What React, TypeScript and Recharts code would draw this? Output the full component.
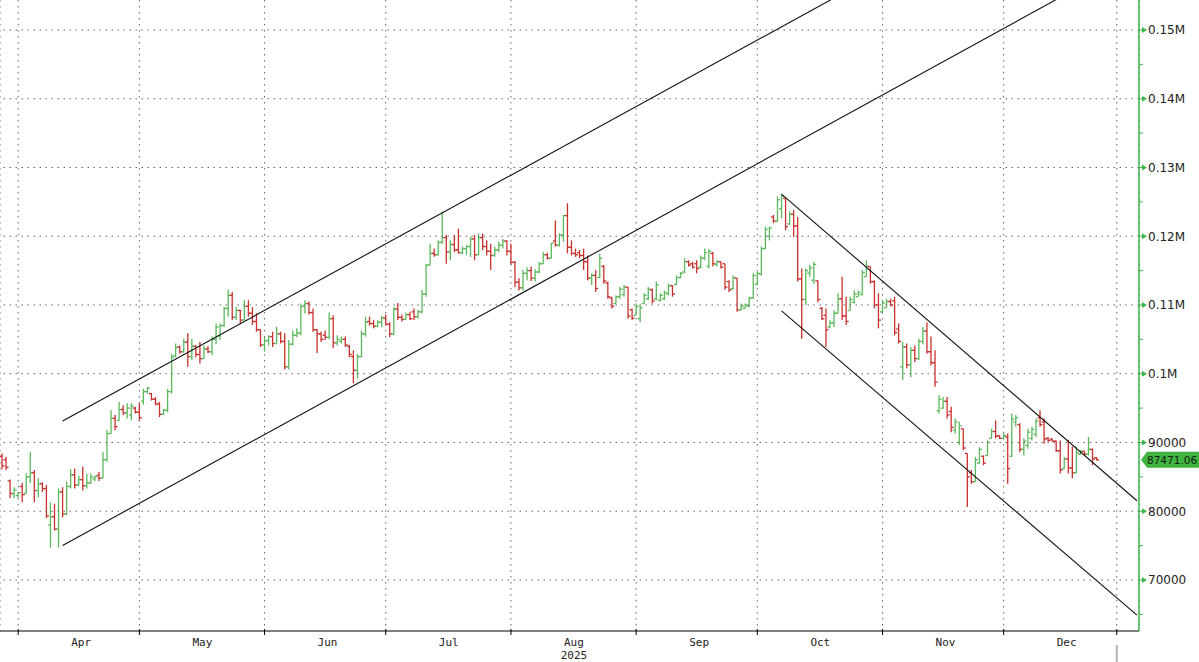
import { ComposedChart, Bar, XAxis, YAxis, CartesianGrid, ReferenceLine } from 'recharts';

const GREEN = '#5cb85c';
const RED = '#c9302c';
const AXIS_GREEN = '#3cb44b';
const GRID = '#666';

// daily bars in USD thousands: [open, high, low, close]
const mar = [
  [88.0, 88.4, 86.1, 86.6], [87.5, 87.9, 86.0, 86.4], [84.4, 84.6, 81.9, 82.6], [82.5, 83.5, 81.9, 83.1],
  [82.3, 82.8, 82.0, 82.7],
];
const apr = [
  [83.6, 84.1, 81.3, 82.4], [82.6, 85.5, 82.6, 85.0], [85.0, 88.6, 84.1, 85.6], [85.6, 86.0, 81.3, 83.0],
  [83.0, 84.8, 82.0, 84.0], [84.0, 84.2, 82.8, 83.3], [83.3, 83.8, 79.0, 79.3], [78.0, 81.3, 74.7, 79.2],
  [79.2, 81.1, 77.2, 77.4], [77.4, 83.3, 74.7, 82.8], [82.8, 83.5, 79.1, 79.6], [79.6, 84.3, 79.4, 83.6],
  [83.6, 86.1, 83.3, 85.3], [85.3, 86.2, 83.3, 83.8], [83.8, 85.2, 83.7, 84.6], [84.6, 86.5, 83.0, 83.7],
  [83.7, 85.5, 83.3, 84.1], [84.1, 85.5, 84.0, 85.0], [84.7, 85.2, 84.4, 85.0], [85.2, 85.7, 84.4, 84.8],
  [84.8, 88.6, 84.8, 87.5], [87.5, 91.8, 87.2, 91.3], [91.3, 94.7, 91.3, 93.5], [93.5, 94.0, 91.8, 92.3],
  [93.2, 95.9, 93.2, 94.8], [94.8, 95.4, 94.0, 94.3], [94.3, 95.7, 93.5, 95.0], [94.0, 95.7, 93.2, 95.3],
  [95.0, 95.2, 94.2, 94.4], [94.4, 95.7, 93.2, 93.6],
];
const may = [
  [96.0, 97.8, 95.5, 97.4], [97.4, 98.1, 97.1, 97.9], [97.1, 97.2, 96.1, 96.3], [96.3, 96.6, 95.4, 95.6],
  [95.6, 95.9, 93.7, 94.1], [94.1, 94.9, 94.0, 94.7], [94.7, 97.8, 94.4, 97.4], [97.4, 102.9, 97.1, 102.4],
  [102.6, 104.4, 102.4, 103.8], [103.9, 104.1, 102.9, 103.2], [103.2, 105.1, 103.1, 104.6], [104.6, 105.9, 101.0, 102.5],
  [102.5, 105.1, 102.0, 104.0], [104.0, 104.1, 102.4, 102.8], [102.8, 104.6, 101.5, 102.2], [102.2, 104.1, 102.2, 103.6],
  [103.6, 104.0, 103.0, 103.2], [103.2, 105.4, 102.7, 105.0], [105.0, 107.3, 104.3, 106.8], [105.5, 107.3, 104.9, 107.0],
  [107.0, 109.7, 106.8, 109.5], [109.5, 112.2, 108.3, 111.4], [111.4, 111.9, 107.8, 108.2], [108.2, 109.7, 107.8, 109.2],
  [109.2, 109.3, 107.3, 107.8], [107.8, 110.7, 107.8, 109.8], [109.8, 110.7, 108.3, 108.8], [108.8, 109.7, 107.1, 107.6],
  [107.6, 108.8, 106.1, 106.4], [106.4, 106.4, 103.9, 104.2], [104.2, 105.4, 103.2, 104.8],
];
const jun = [
  [104.8, 105.6, 104.1, 105.4], [105.4, 106.1, 103.9, 104.4], [104.4, 106.8, 104.4, 105.8], [105.8, 106.1, 104.4, 104.7],
  [104.7, 105.9, 100.6, 101.0], [101.0, 104.9, 100.6, 104.3], [104.3, 106.3, 104.1, 105.6], [105.6, 106.6, 105.3, 105.9],
  [105.9, 110.2, 105.6, 109.8], [109.8, 110.7, 108.8, 110.2], [110.2, 110.5, 108.6, 108.9], [108.9, 109.5, 106.1, 106.4],
  [106.4, 106.5, 103.0, 105.8], [105.8, 106.1, 104.6, 105.0], [105.6, 106.3, 104.9, 105.3], [105.3, 108.9, 105.0, 108.0],
  [108.0, 108.5, 103.7, 104.5], [104.5, 105.6, 104.1, 105.0], [104.7, 105.4, 104.4, 105.0], [105.0, 105.4, 103.9, 104.2],
  [104.0, 104.2, 102.4, 102.8], [102.5, 103.4, 98.6, 100.5], [100.5, 102.9, 99.3, 102.5], [102.5, 106.3, 102.4, 105.8],
  [105.8, 108.3, 105.4, 107.5], [107.6, 108.3, 107.0, 107.3], [107.3, 107.8, 106.6, 106.9], [106.9, 107.8, 106.8, 107.5],
  [107.5, 108.4, 106.8, 108.1], [108.1, 108.6, 107.0, 107.2],
];
const jul = [
  [107.2, 107.5, 105.3, 105.8], [105.8, 109.7, 105.6, 109.4], [109.4, 110.3, 107.8, 108.2], [108.2, 108.6, 107.6, 107.9],
  [107.9, 108.9, 107.9, 108.6], [108.6, 109.0, 107.8, 108.0], [109.0, 109.5, 107.8, 108.3], [108.3, 109.3, 108.0, 109.0],
  [109.0, 112.2, 108.8, 111.6], [111.6, 116.0, 111.2, 115.8], [115.8, 118.9, 115.8, 117.5], [117.5, 118.2, 117.0, 117.3],
  [117.3, 119.4, 117.2, 119.1], [119.1, 123.6, 118.9, 119.8], [119.8, 120.2, 116.0, 117.7], [117.7, 119.4, 116.5, 118.8],
  [118.8, 120.2, 117.7, 118.0], [118.0, 121.1, 117.5, 117.6], [117.6, 118.5, 117.4, 118.2], [118.2, 118.7, 117.3, 118.5],
  [118.5, 119.9, 117.0, 119.6], [119.6, 120.2, 116.5, 117.3], [117.3, 120.4, 117.3, 119.8], [119.8, 120.4, 118.0, 118.5],
  [118.5, 119.4, 117.2, 117.8], [117.8, 118.9, 115.1, 117.2], [117.2, 118.5, 117.0, 118.0], [118.0, 119.2, 117.7, 118.7],
  [118.7, 119.6, 118.2, 119.3], [119.3, 119.4, 117.2, 117.8], [117.8, 118.9, 115.9, 116.2],
];
const aug = [
  [116.2, 116.4, 112.6, 113.3], [113.3, 113.9, 112.1, 112.5], [112.5, 115.1, 112.1, 114.6], [114.6, 115.5, 113.6, 115.0],
  [115.0, 115.6, 113.5, 113.9], [113.9, 115.2, 113.4, 114.8], [114.8, 116.3, 114.6, 116.0], [116.0, 117.7, 116.0, 117.3],
  [117.3, 117.6, 116.6, 116.8], [116.8, 119.0, 116.8, 119.0], [119.3, 122.3, 118.5, 118.7], [118.7, 120.4, 118.5, 120.2],
  [120.2, 123.1, 119.2, 123.0], [123.0, 124.8, 117.5, 118.4], [118.4, 119.4, 117.2, 117.5], [117.5, 118.2, 117.0, 117.3],
  [117.6, 118.0, 116.8, 117.2], [117.2, 118.2, 115.1, 116.3], [116.3, 117.2, 113.6, 113.9], [113.9, 114.6, 112.9, 114.3],
  [114.3, 115.1, 111.9, 112.4], [114.0, 117.5, 113.9, 116.8], [115.6, 115.8, 113.1, 113.5], [113.2, 113.4, 110.9, 111.2],
  [111.0, 111.2, 109.5, 109.8], [110.2, 111.4, 110.2, 111.2], [111.2, 112.6, 110.9, 112.3], [111.5, 112.9, 111.2, 112.6],
  [112.6, 112.6, 108.0, 108.4], [109.3, 109.5, 107.8, 108.1], [108.5, 110.2, 108.5, 109.8],
];
const sep = [
  [108.0, 110.0, 107.5, 109.6], [110.2, 111.7, 110.2, 111.4], [110.9, 112.6, 110.7, 112.3], [112.2, 112.4, 110.2, 110.6],
  [110.9, 113.4, 110.7, 112.9], [110.7, 111.7, 110.5, 111.4], [110.9, 112.1, 110.7, 111.8], [111.6, 113.1, 111.4, 112.8],
  [112.8, 112.9, 111.2, 111.6], [113.0, 114.3, 112.9, 114.0], [114.0, 114.8, 113.9, 114.6], [114.8, 116.8, 114.6, 116.3],
  [116.3, 116.5, 115.6, 115.8], [116.0, 116.3, 115.3, 115.5], [116.0, 116.5, 114.6, 115.3], [115.5, 117.2, 115.3, 116.8],
  [116.8, 118.2, 116.5, 117.6], [115.6, 118.1, 115.3, 117.8], [117.5, 117.7, 115.6, 116.0], [115.9, 116.5, 115.6, 116.3],
  [116.3, 116.3, 115.3, 115.5], [116.0, 116.0, 112.2, 112.6], [113.4, 113.6, 111.9, 112.2], [112.4, 114.3, 112.2, 114.0],
  [113.9, 113.9, 109.0, 109.3], [109.3, 110.2, 109.2, 109.8], [109.5, 110.2, 109.5, 110.0], [109.8, 111.2, 109.7, 111.0],
  [111.0, 114.6, 110.9, 114.3], [113.0, 114.8, 112.9, 114.6],
];
const oct = [
  [114.5, 118.5, 114.3, 118.2], [118.2, 121.4, 118.2, 121.0], [120.0, 121.4, 119.4, 121.2], [122.8, 123.1, 121.9, 122.2],
  [122.2, 125.8, 122.1, 125.3], [124.0, 126.2, 122.6, 125.8], [125.5, 125.5, 120.9, 121.4], [121.8, 123.6, 121.6, 123.2],
  [123.2, 123.8, 119.9, 121.5], [121.5, 122.8, 113.4, 113.8], [113.8, 115.3, 105.1, 110.8], [110.8, 115.3, 110.0, 115.0],
  [114.6, 115.8, 114.1, 115.4], [113.6, 116.3, 113.1, 115.9], [113.5, 113.6, 110.4, 110.8], [109.5, 109.7, 107.8, 108.0],
  [108.5, 109.5, 103.9, 106.4], [106.8, 107.8, 106.6, 107.4], [107.4, 109.2, 106.8, 108.8], [108.8, 111.7, 108.8, 110.9],
  [110.9, 114.1, 107.8, 108.4], [108.4, 111.2, 107.1, 107.6], [109.2, 111.2, 109.2, 110.8], [110.4, 112.1, 110.2, 111.6],
  [111.2, 112.1, 111.2, 111.8], [111.5, 115.1, 111.4, 114.7], [114.1, 116.5, 114.1, 115.6], [115.6, 115.6, 113.1, 113.4],
  [113.4, 113.6, 109.5, 110.0], [110.0, 111.7, 106.6, 107.8], [109.0, 110.7, 109.0, 110.3],
];
const nov = [
  [109.6, 110.9, 109.6, 110.5], [110.5, 110.9, 109.8, 110.0], [110.6, 111.2, 105.6, 106.0], [106.5, 107.3, 104.4, 104.7],
  [101.0, 104.6, 99.1, 103.9], [103.9, 104.4, 100.8, 101.3], [101.3, 103.9, 99.5, 103.4], [103.4, 104.1, 101.7, 102.2],
  [102.2, 105.1, 102.0, 104.7], [104.7, 106.8, 104.3, 106.2], [106.2, 107.5, 102.9, 103.2], [103.2, 105.4, 101.2, 101.6],
  [101.6, 103.4, 98.1, 98.8], [94.6, 96.9, 94.2, 96.3], [95.0, 96.6, 94.9, 96.0], [96.0, 96.6, 93.5, 94.0],
  [94.5, 95.2, 91.5, 92.2], [91.8, 93.5, 91.3, 93.0], [90.0, 93.0, 89.6, 92.4], [92.0, 92.0, 88.9, 89.2],
  [88.4, 88.4, 80.6, 85.0], [85.6, 86.0, 84.0, 84.3], [84.3, 87.9, 84.3, 87.5], [87.0, 89.3, 86.9, 89.0],
  [88.0, 88.1, 86.7, 87.0], [88.1, 90.3, 88.1, 90.0], [90.6, 92.0, 90.6, 91.6], [91.6, 93.2, 90.6, 90.9],
  [91.0, 91.0, 90.5, 90.6], [90.6, 91.3, 90.6, 91.0],
];
const dec = [
  [90.8, 91.3, 84.0, 86.2], [88.0, 94.2, 87.9, 93.4], [93.0, 94.0, 92.3, 93.6], [92.6, 92.8, 88.6, 89.0],
  [89.0, 90.6, 88.1, 90.2], [89.6, 92.0, 89.1, 91.5], [90.6, 92.3, 90.3, 91.9], [91.2, 93.5, 90.8, 93.1],
  [93.6, 94.7, 92.3, 92.6], [93.0, 93.5, 89.8, 90.5], [90.6, 90.8, 90.1, 90.3], [90.5, 90.6, 90.1, 90.2],
  [90.2, 90.3, 88.6, 88.8], [88.8, 90.3, 85.5, 86.0], [86.2, 87.9, 86.2, 87.6], [87.6, 90.4, 85.5, 86.3],
  [86.3, 89.4, 84.8, 85.6], [85.6, 89.4, 85.5, 88.5], [88.3, 88.9, 88.2, 88.7], [88.7, 88.8, 88.1, 88.3],
  [88.3, 90.8, 88.1, 89.0], [89.0, 89.1, 86.7, 87.6], [87.8, 87.9, 87.4, 87.47106],
];

// axis: one category per calendar day, 27 Mar 2025 .. 2 Jan 2026
const FIRST_DAY = Date.UTC(2025, 2, 27);
const DAY_COUNT = 282;

const tickDates = ['2025-03-31', '2025-04-30', '2025-05-31', '2025-06-30', '2025-07-31', '2025-08-31', '2025-09-30', '2025-10-31', '2025-11-30', '2025-12-28'];
const tickLabels = ['Apr', 'May', 'Jun', 'Jul', 'Aug', 'Sep', 'Oct', 'Nov', 'Dec', ''];

const yMajor = [70000, 80000, 90000, 100000, 110000, 120000, 130000, 140000, 150000];
const yMinor = [65000, 75000, 85000, 95000, 105000, 115000, 125000, 135000, 145000];

// channel lines: [start date, start price, end date, end price]
const channels = [
  ['2025-04-11', 93110, '2025-10-23', 155940],
  ['2025-04-11', 75020, '2025-12-14', 154750],
  ['2025-10-06', 126130, '2026-01-02', 81530],
  ['2025-10-06', 109140, '2026-01-02', 64890],
];

const bars = [...mar, ...apr, ...may, ...jun, ...jul, ...aug, ...sep, ...oct, ...nov, ...dec];
const lastClose = bars[bars.length - 1][3] * 1000;

const dayKey = (i: number) => new Date(FIRST_DAY + i * 86400000).toISOString().slice(0, 10);

const data = Array.from({ length: DAY_COUNT }, (_, i) => {
  const b = bars[i];
  if (!b) return { d: dayKey(i) };
  return { d: dayKey(i), o: b[0] * 1000, h: b[1] * 1000, l: b[2] * 1000, c: b[3] * 1000 };
});

const OhlcBar = (props: any) => {
  const { x, y, width, height, payload } = props;
  if (payload == null || payload.h == null) return null;
  const top = Math.min(y, y + height);
  const bottom = Math.max(y, y + height);
  const span = payload.h - payload.l;
  const py = (v: number) => (span > 0 ? top + ((payload.h - v) / span) * (bottom - top) : top);
  const cx = x + width / 2;
  const color = payload.c >= payload.o ? GREEN : RED;
  return (
    <g stroke={color} strokeWidth={1.3}>
      <line x1={cx} x2={cx} y1={top} y2={bottom} />
      <line x1={cx - 2.5} x2={cx} y1={py(payload.o)} y2={py(payload.o)} />
      <line x1={cx} x2={cx + 2.5} y1={py(payload.c)} y2={py(payload.c)} />
    </g>
  );
};

const MonthTick = (props: any) => {
  const { x, y, payload } = props;
  const i = tickDates.indexOf(payload.value);
  const label = tickLabels[i];
  const textStyle = { fontFamily: '"DejaVu Sans Mono", monospace', fontSize: 11, fill: '#222' };
  return (
    <g>
      <line x1={x} x2={x} y1={y - 2} y2={y + 4} stroke="#000" />
      {label ? (
        <text x={x + 63} y={y + 15} textAnchor="middle" style={textStyle}>
          {label}
        </text>
      ) : null}
      {label === 'Aug' ? (
        <text x={x + 63} y={y + 28} textAnchor="middle" style={textStyle}>
          2025
        </text>
      ) : null}
      {i === tickDates.length - 1 ? <line x1={x} x2={x} y1={y + 14} y2={y + 31} stroke="#b5b5b5" strokeWidth={2} /> : null}
    </g>
  );
};

const priceLabel = (v: number) => (v >= 100000 ? `${v / 1000000}M` : `${v}`);

const PriceTick = (props: any) => {
  const { x, y, payload } = props;
  const v = payload.value;
  if (v === lastClose) {
    return (
      <g>
        <polygon points={`${x + 2},${y} ${x + 8},${y - 8} ${x + 62},${y - 8} ${x + 62},${y + 8} ${x + 8},${y + 8}`} fill="#41b341" />
        <text x={x + 8} y={y} dy="0.36em" style={{ fontFamily: '"DejaVu Sans", Verdana, sans-serif', fontSize: 10.5, fill: '#0d1f0d' }}>
          {lastClose.toFixed(2)}
        </text>
      </g>
    );
  }
  if (v % 10000 !== 0) {
    return <line x1={x} x2={x + 4} y1={y} y2={y} stroke={AXIS_GREEN} />;
  }
  return (
    <g>
      <polygon
        points={`${x},${y - 0.6} ${x + 3},${y - 0.6} ${x + 3},${y - 3} ${x + 8},${y} ${x + 3},${y + 3} ${x + 3},${y + 0.6} ${x},${y + 0.6}`}
        fill={AXIS_GREEN}
      />
      <text x={x + 9} y={y} dy="0.36em" style={{ fontFamily: '"DejaVu Sans", Verdana, sans-serif', fontSize: 12, fill: '#222' }}>
        {priceLabel(v)}
      </text>
    </g>
  );
};

export default function App() {
  return (
    <div style={{ position: 'absolute', left: 0, top: 0, width: 1199, height: 662, background: '#fff' }}>
      <ComposedChart width={1199} height={662} data={data} margin={{ top: 0, right: 0, bottom: 0, left: 0 }} barCategoryGap={0}>
        <CartesianGrid horizontal={false} stroke={GRID} strokeDasharray="1.5 4.5" />
        <XAxis
          dataKey="d"
          type="category"
          ticks={tickDates}
          interval={0}
          height={31}
          tickSize={0}
          tickMargin={0}
          tickLine={false}
          axisLine={{ stroke: '#000' }}
          tick={<MonthTick />}
        />
        <YAxis
          orientation="right"
          type="number"
          domain={[62580, 154360]}
          allowDataOverflow
          ticks={[...yMinor, ...yMajor, lastClose]}
          interval={0}
          width={60}
          tickSize={0}
          tickMargin={0}
          tickLine={false}
          axisLine={{ stroke: AXIS_GREEN, strokeWidth: 1.5 }}
          tick={<PriceTick />}
        />
        {yMajor.map((v) => (
          <ReferenceLine key={v} y={v} stroke={GRID} strokeDasharray="1.5 4.5" ifOverflow="visible" />
        ))}
        <Bar
          dataKey={(r: any) => (r.h == null ? null : [r.l, r.h])}
          shape={<OhlcBar />}
          isAnimationActive={false}
        />
        {channels.map((c, i) => (
          <ReferenceLine
            key={`ch${i}`}
            segment={[
              { x: c[0], y: c[1] },
              { x: c[2], y: c[3] },
            ]}
            stroke="#111"
            strokeWidth={1.1}
            ifOverflow="visible"
          />
        ))}
      </ComposedChart>
    </div>
  );
}
